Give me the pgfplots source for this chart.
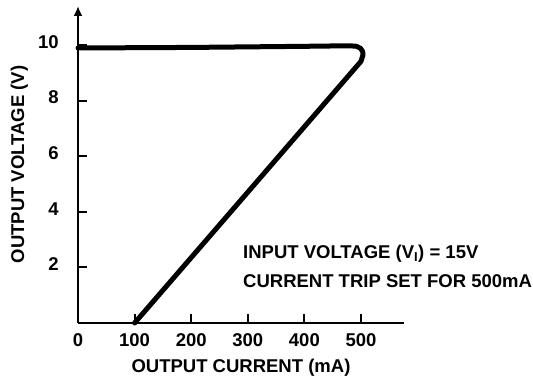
\documentclass[border=0pt]{standalone}
\usepackage{pgfplots}
\pgfplotsset{compat=1.18}
\usepackage{fontspec}
\setmainfont{Liberation Sans}
\usetikzlibrary{arrows.meta}
\begin{document}
\fontsize{18.5pt}{22pt}\selectfont\bfseries
\begin{tikzpicture}
\useasboundingbox (0pt,0pt) rectangle (533pt,377pt);
\begin{axis}[
  at={(78pt,54pt)}, anchor=south west,
  scale only axis, width=326pt, height=317pt,
  xmin=0, xmax=576, ymin=0, ymax=11.4,
  axis lines=left,
  x axis line style={-, line width=2.5pt},
  y axis line style={-{Latex[length=10pt,width=9pt]}, line width=2.5pt},
  tick align=inside,
  major tick length=9pt,
  every tick/.style={black, line width=2pt},
  xtick={0,100,200,300,400,500},
  ytick={2,4,6,8,10},
  /pgf/number format/assume math mode=true,
  ticklabel style={font=\fontsize{18.5pt}{22pt}\selectfont\bfseries},
  xticklabel style={yshift=-4pt},
  yticklabel style={xshift=-13pt, yshift=3pt},
  every axis x label/.style={at={(axis description cs:0.5,-0.142)},anchor=center},
  every axis y label/.style={at={(axis description cs:-0.18,0.5)},rotate=90,anchor=center},
  xlabel={OUTPUT CURRENT (mA)},
  ylabel={OUTPUT VOLTAGE (V)},
  clip=false,
]
\addplot[black, line width=5pt, line join=round, line cap=round] coordinates {
  (0,9.89) (200,9.91) (400,9.95) (480,9.97) (492,9.95) (499,9.88) (503,9.76) (503.5,9.64) (500,9.41) (100,0)
};
\node[anchor=west, inner sep=0pt] at (axis cs:291.5,2.5) {INPUT VOLTAGE (V\textsubscript{I}) = 15V};
\node[anchor=west, inner sep=0pt] at (axis cs:291.5,1.5) {CURRENT TRIP SET FOR 500mA};
\end{axis}
\end{tikzpicture}
\end{document}
